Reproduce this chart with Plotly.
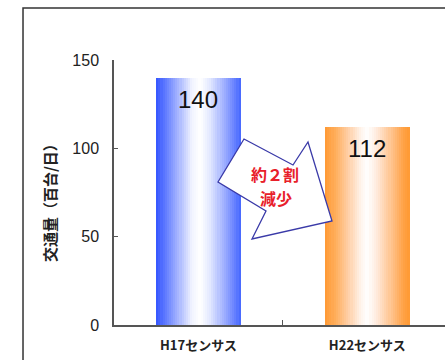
import plotly.graph_objects as go

# ---- data ----
categories = ["H17センサス", "H22センサス"]
values = [140, 112]
value_labels = ["140", "112"]
y_ticks = [0, 50, 100, 150]
y_title = "交通量（百台/日）"
change_lines = ["約２割", "減少"]

# ---- styling ----
W, H = 445, 360
L, R, T, B = 114, 0, 60, 35
PW, PH = W - L - R, H - T - B

blue_scale = [(0, (51, 85, 255)), (0.12, (102, 128, 255)), (0.28, (175, 188, 255)),
              (0.42, (240, 243, 255)), (0.52, (255, 255, 255)), (0.64, (225, 231, 255)),
              (0.8, (160, 176, 255)), (0.93, (104, 130, 255)), (1, (68, 102, 255))]
orange_scale = [(0, (255, 153, 51)), (0.12, (255, 174, 92)), (0.28, (255, 208, 168)),
                (0.42, (255, 243, 234)), (0.5, (255, 255, 255)), (0.62, (255, 232, 216)),
                (0.8, (255, 191, 133)), (0.93, (255, 162, 70)), (1, (255, 153, 51))]


def lerp_scale(scale, t):
    for (p0, c0), (p1, c1) in zip(scale[:-1], scale[1:]):
        if p0 <= t <= p1:
            f = (t - p0) / (p1 - p0) if p1 > p0 else 0
            c = [round(a + (b - a) * f) for a, b in zip(c0, c1)]
            return "rgb(%d,%d,%d)" % tuple(c)
    return "rgb(%d,%d,%d)" % scale[-1][1]


def to_paper(x, y):
    return ((x - L) / PW, (H - B - y) / PH)


fig = go.Figure()

N = 40
bw = 0.5
sw = bw / N
for i in range(N):
    t = (i + 0.5) / N
    cols = [lerp_scale(blue_scale, t), lerp_scale(orange_scale, t)]
    fig.add_trace(go.Bar(
        x=categories, y=values,
        offset=-bw / 2 + i * sw,
        width=sw * (1.0 if i == N - 1 else 1.3),
        marker=dict(color=cols, line=dict(width=0), opacity=1),
        showlegend=False, hoverinfo="skip",
    ))

# value labels
for c, v, lab in zip(categories, values, value_labels):
    fig.add_annotation(x=c, y=v, text=lab, showarrow=False, yanchor="top", yshift=-6,
                       font=dict(family="Liberation Sans", size=24, color="#111"))

# arrow decoration (pixel-space outline)
arrow_px = [(244, 139), (293, 165), (308, 142), (332, 221), (252, 239), (266, 211), (218, 182)]
pts = [to_paper(x, y) for x, y in arrow_px]
path = "M " + " L ".join("%.4f,%.4f" % p for p in pts) + " Z"
fig.add_shape(type="path", path=path, xref="paper", yref="paper",
              fillcolor="white", line=dict(color="#3a3aa8", width=1.3), layer="above")

for line_text, (cx, cy) in zip(change_lines, [(275, 174), (276, 198)]):
    tx, ty = to_paper(cx, cy)
    fig.add_annotation(x=tx, y=ty, xref="paper", yref="paper", text=line_text, showarrow=False,
                       xanchor="center", yanchor="middle",
                       font=dict(family="Noto Sans CJK JP", size=16, color="#e8202a", weight="bold"))

# y title
ax_, ay_ = to_paper(49, 199)
fig.add_annotation(x=ax_, y=ay_, xref="paper", yref="paper", text=y_title, showarrow=False,
                   textangle=-90, xanchor="center", yanchor="middle",
                   font=dict(family="Noto Sans CJK JP", size=15, color="#222", weight="bold"))

# outer frame
fx0, fy0 = to_paper(23, 8)
fx1, fy1 = to_paper(470, 380)
fig.add_shape(type="path", xref="paper", yref="paper",
              path="M %.4f,%.4f L %.4f,%.4f L %.4f,%.4f" % (fx1, fy0, fx0, fy0, fx0, fy1),
              line=dict(color="#333", width=1.5))

fig.update_layout(
    width=W, height=H,
    margin=dict(l=L, r=R, t=T, b=B, autoexpand=False),
    paper_bgcolor="white", plot_bgcolor="white",
    barmode="overlay", bargap=0,
    showlegend=False,
    xaxis=dict(range=[-0.5, 1.46], showline=True, linecolor="#555", linewidth=1.5,
               ticks="inside", tickson="boundaries", ticklen=5, tickcolor="#555",
               showgrid=False, zeroline=False, ticklabelstandoff=8,
               tickfont=dict(family="Noto Sans CJK JP", size=13, color="#222", weight="bold")),
    yaxis=dict(range=[0, 150], tickvals=y_ticks, showline=True, linecolor="#555", linewidth=1.5,
               ticks="inside", ticklen=4, tickcolor="#555", showgrid=False, zeroline=False,
               ticklabelstandoff=10,
               tickfont=dict(family="Liberation Sans", size=16, color="#222")),
)

fig.write_html("out.html")
